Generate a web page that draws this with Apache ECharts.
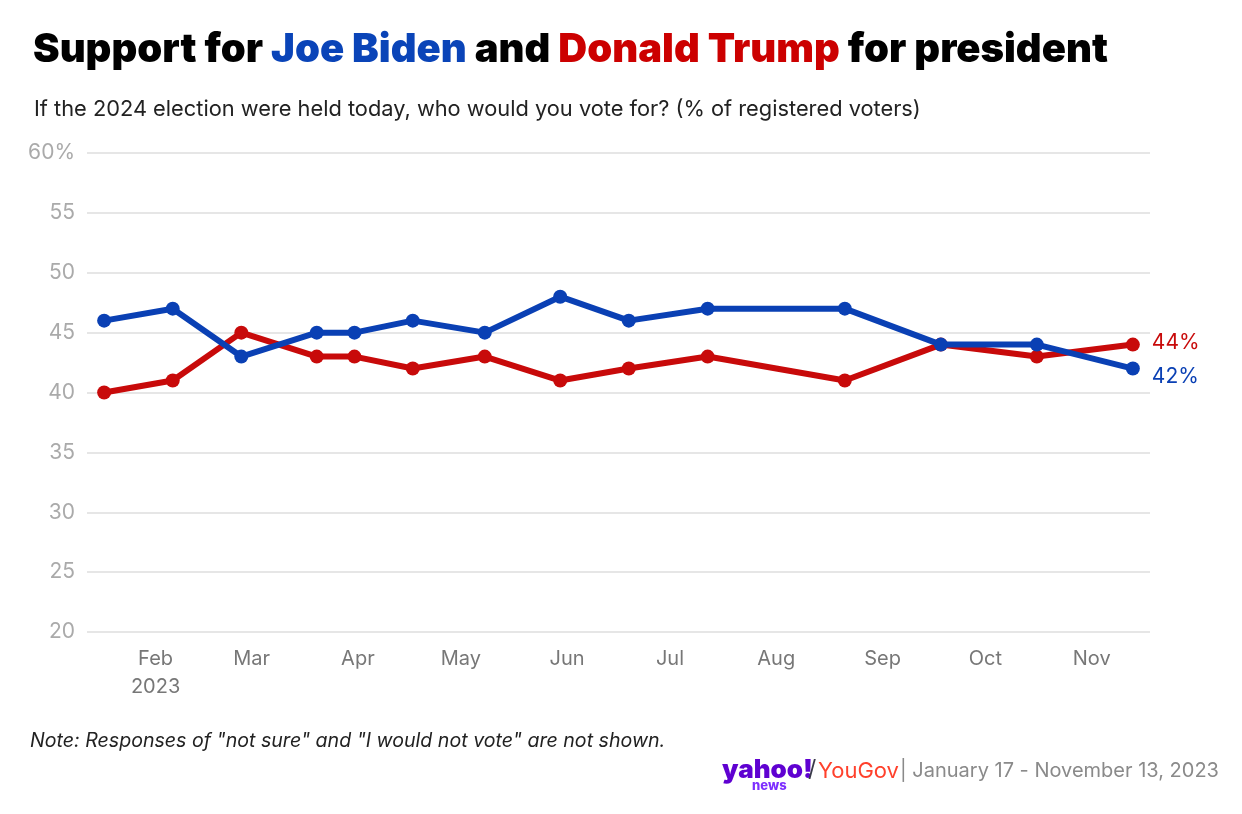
<!DOCTYPE html>
<html><head><meta charset="utf-8">
<script src="https://cdn.jsdelivr.net/npm/echarts@6/dist/echarts.min.js"></script>
<style>html,body{margin:0;padding:0;background:#fff}#c{width:1242px;height:814px}</style>
</head><body><div id="c"></div>
<script>
const dates = ['2023-01-17','2023-02-06','2023-02-26','2023-03-20','2023-03-31','2023-04-17','2023-05-08','2023-05-30','2023-06-19','2023-07-12','2023-08-21','2023-09-18','2023-10-16','2023-11-13'];
const biden = [46,47,43,45,45,46,45,48,46,47,47,44,44,42];
const trump = [40,41,45,43,43,42,43,41,42,43,41,44,43,44];
const yTicks = [20,25,30,35,40,45,50,55,60];
const monthNames = ['Jan','Feb','Mar','Apr','May','Jun','Jul','Aug','Sep','Oct','Nov','Dec'];

const FONT = 'Inter, "Open Sans", sans-serif';
const BLUE = '#0a40b4', RED = '#c80a0a';
const toPairs = arr => dates.map((d,i)=>[d, arr[i]]);

const chart = echarts.init(document.getElementById('c'), null, {renderer:'canvas'});
chart.setOption({
  useUTC: true,
  animation: false,
  backgroundColor: '#fff',
  title: [{
    left: 28, top: 25,
    text: '{a|Support for }{b|Joe Biden}{a| and }{c|Donald Trump}{a| for president}',
    textStyle: {
      rich: {
        a: {fontFamily: FONT, fontWeight: 900, fontSize: 40, color: '#000'},
        b: {fontFamily: FONT, fontWeight: 900, fontSize: 40, color: '#0a44b8'},
        c: {fontFamily: FONT, fontWeight: 900, fontSize: 40, color: '#cc0000'}
      }
    }
  },{
    left: 29, top: 93,
    text: 'If the 2024 election were held today, who would you vote for? (% of registered voters)',
    textStyle: {fontFamily: FONT, fontWeight: 400, fontSize: 21.8, color: '#222'}
  }],
  grid: {left: 87, right: 92, top: 153, bottom: 182, containLabel: false},
  xAxis: {
    type: 'time',
    min: '2023-01-12', max: '2023-11-18',
    minInterval: 28*86400000, maxInterval: 31*86400000,
    axisLine: {show: false}, axisTick: {show: false},
    splitLine: {show: false},
    axisLabel: {
      margin: 13, fontFamily: FONT, fontSize: 20, color: '#777', lineHeight: 28,
      showMinLabel: true, showMaxLabel: false,
      formatter: function(v){
        const d = new Date(v);
        if (d.getUTCDate() !== 1) return '';
        const m = d.getUTCMonth();
        return m === 1 ? 'Feb\n2023' : monthNames[m];
      }
    }
  },
  yAxis: {
    type: 'value', min: 20, max: 60, interval: 5,
    axisLine: {show: false}, axisTick: {show: false},
    splitLine: {lineStyle: {color: '#e6e6e6', width: 2}},
    axisLabel: {
      margin: 12, fontFamily: FONT, fontSize: 21, color: '#aaa',
      formatter: v => yTicks.includes(v) ? (v === 60 ? '60%' : String(v)) : ''
    }
  },
  series: [{
    name: 'Trump', type: 'line', data: toPairs(trump),
    color: RED, lineStyle: {width: 6, color: RED},
    symbol: 'circle', symbolSize: 14, itemStyle: {color: RED},
    z: 2,
    endLabel: {show: true, formatter: p => p.value[1] + '%', color: RED, fontFamily: FONT, fontSize: 21, distance: 19, offset: [0,-2]}
  },{
    name: 'Biden', type: 'line', data: toPairs(biden),
    color: BLUE, lineStyle: {width: 6, color: BLUE},
    symbol: 'circle', symbolSize: 14, itemStyle: {color: BLUE},
    z: 3,
    endLabel: {show: true, formatter: p => p.value[1] + '%', color: BLUE, fontFamily: FONT, fontSize: 21, distance: 19, offset: [0,8]}
  }],
  graphic: [
    {type: 'text', left: 30, top: 731, style: {text: 'Note: Responses of "not sure" and "I would not vote" are not shown.', fontFamily: FONT, fontStyle: 'italic', fontSize: 19.6, fill: '#222'}},
    {type: 'text', left: 722, top: 757, style: {text: 'yahoo!', fontFamily: FONT, fontWeight: 900, fontSize: 26, fill: '#5f01d1'}},
    {type: 'text', left: 752, top: 780, style: {text: 'news', fontFamily: FONT, fontWeight: 800, fontSize: 13, fill: '#7d2eff'}},
    {type: 'text', left: 808, top: 759, style: {text: '/', fontFamily: FONT, fontWeight: 400, fontSize: 23, fill: '#39394a'}},
    {type: 'text', left: 818, top: 760, style: {text: 'YouGov', fontFamily: FONT, fontWeight: 400, fontSize: 22, fill: '#ff412c'}},
    {type: 'text', left: 900, top: 761, style: {text: '| January 17 - November 13, 2023', fontFamily: FONT, fontWeight: 400, fontSize: 20, fill: '#8a8a8a'}}
  ]
});
</script></body></html>
